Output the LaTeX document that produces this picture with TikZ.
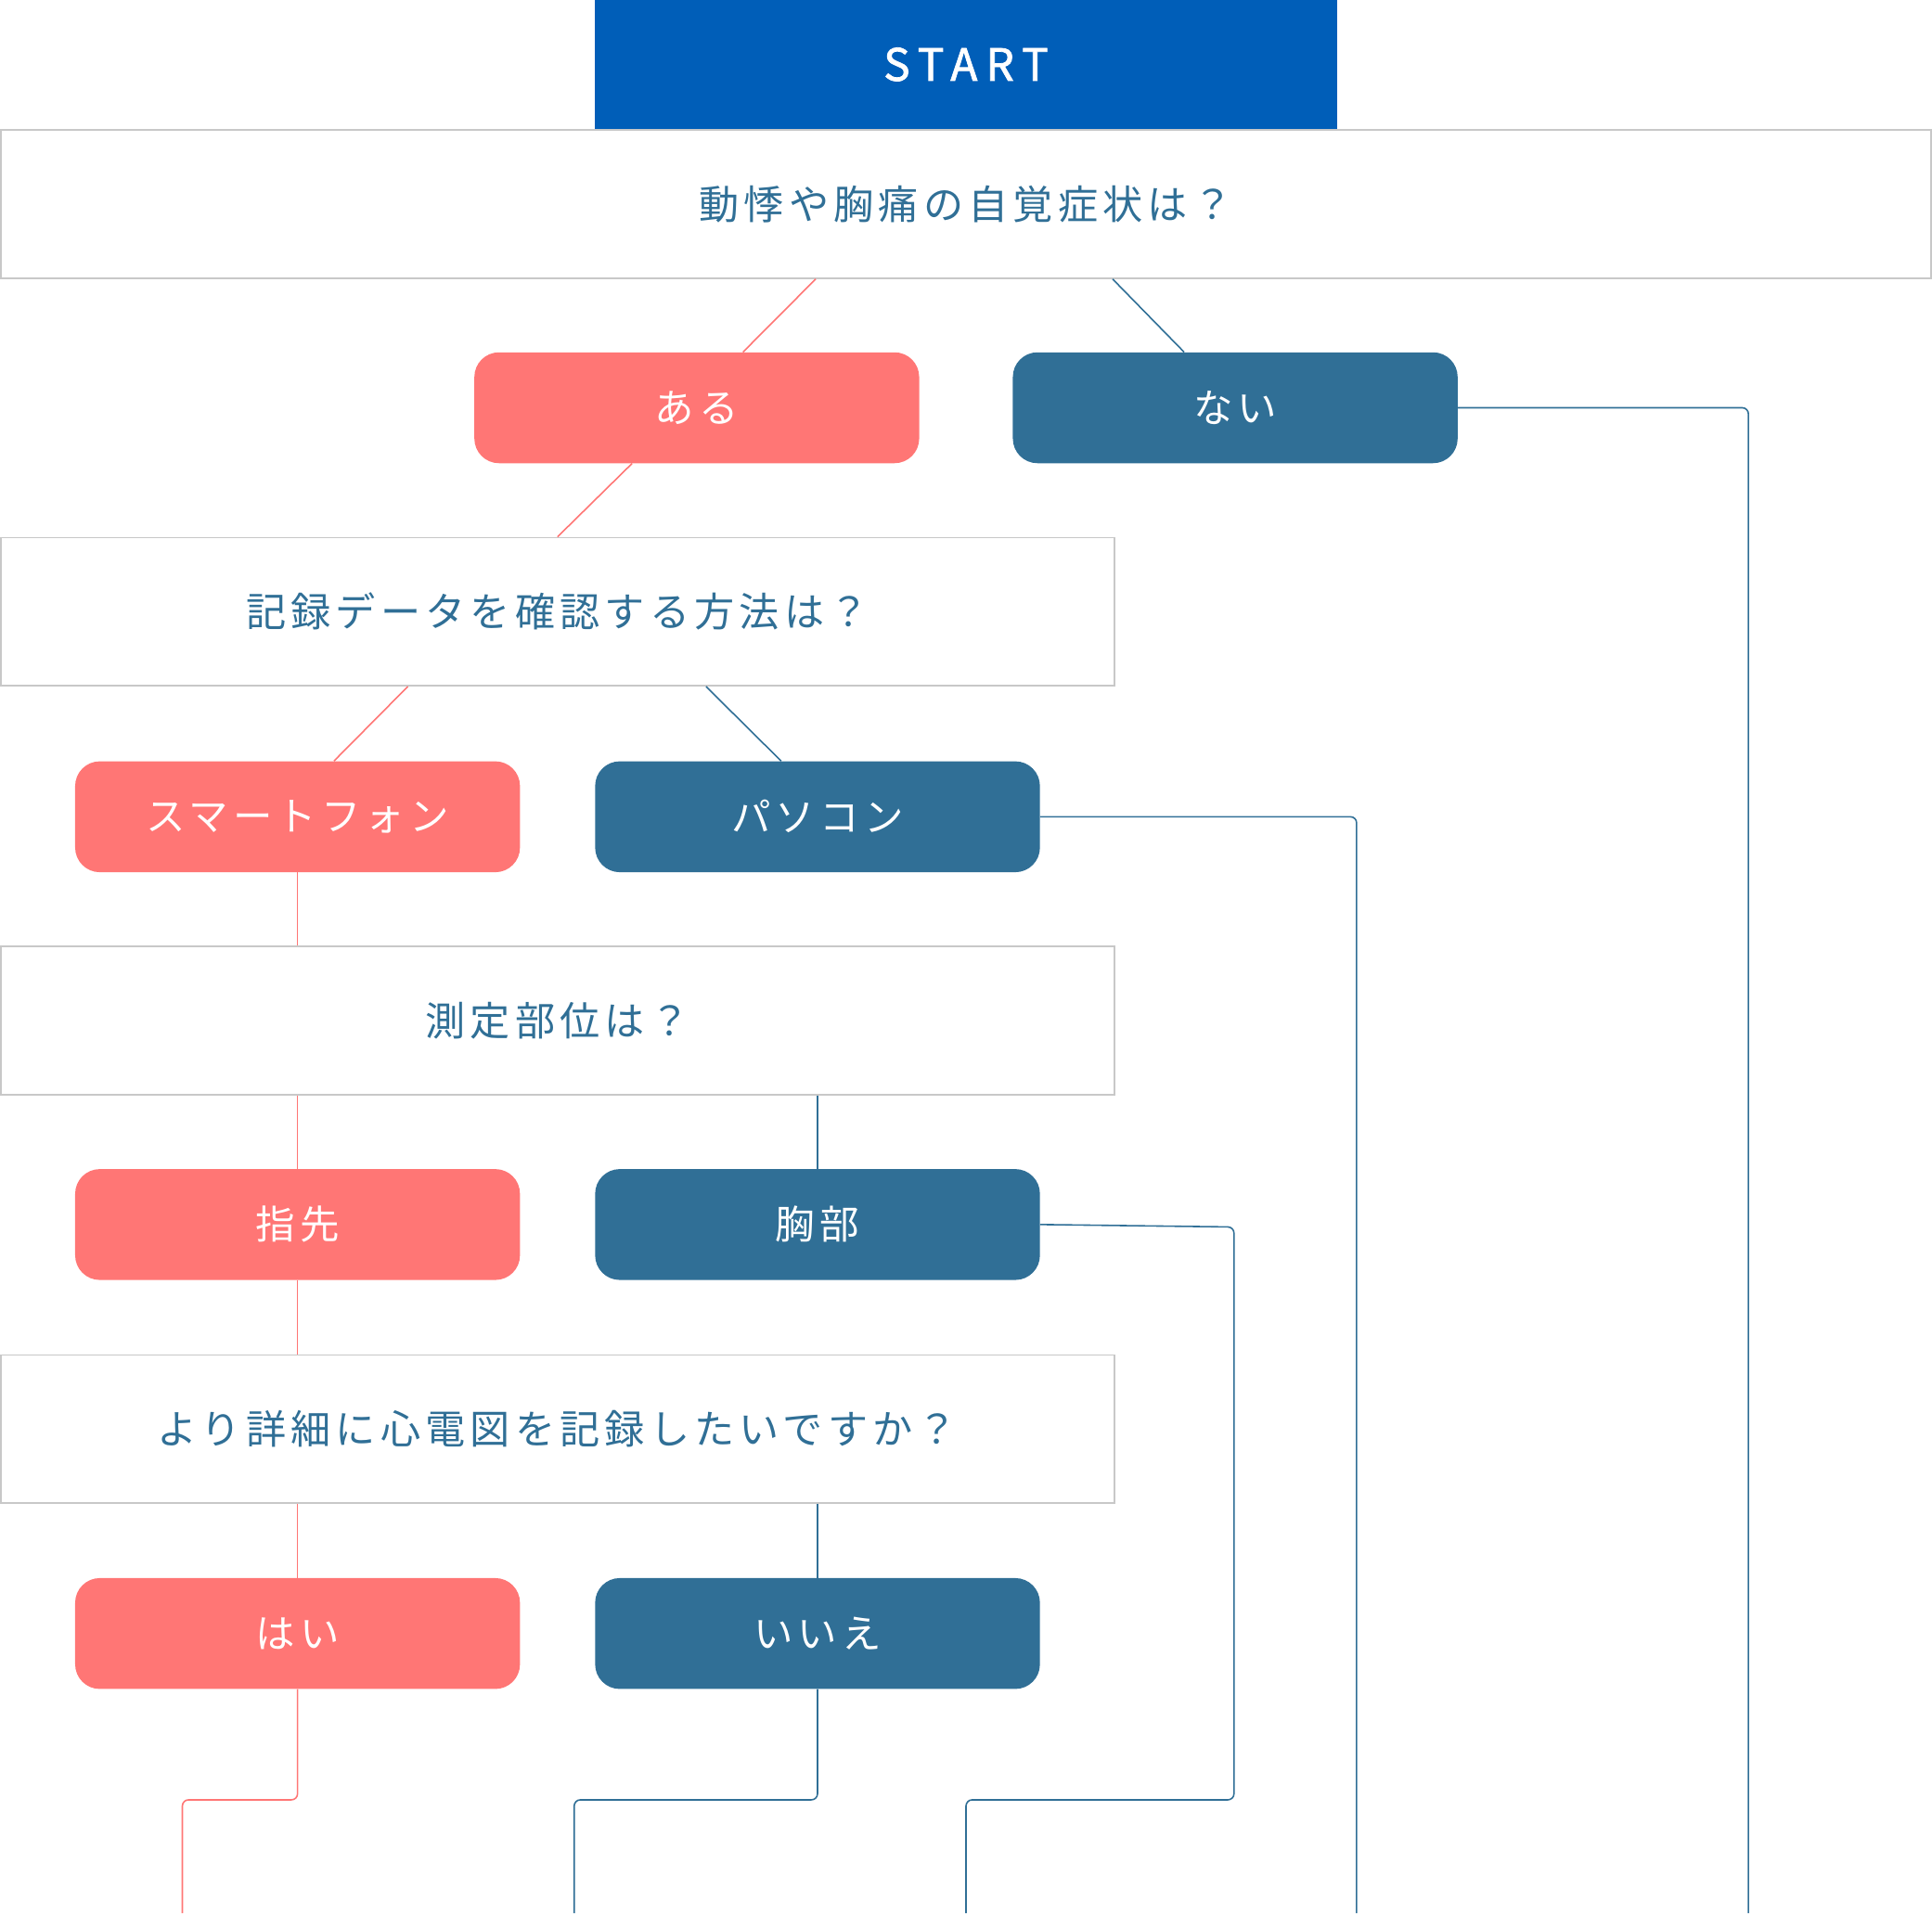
\documentclass[tikz,border=0pt]{standalone}
\usepackage{fontspec}
\setmainfont{Noto Sans CJK JP}
\newfontfamily\jpq[LetterSpace=12]{Noto Sans CJK JP}
\newfontfamily\startfont[LetterSpace=19,FakeBold=1.6]{Noto Sans CJK JP}
\definecolor{startblue}{HTML}{005EB8}
\definecolor{salmon}{HTML}{FF7675}
\definecolor{dblue}{HTML}{306F96}
\definecolor{qgray}{HTML}{C8C8C8}
\begin{document}
\begin{tikzpicture}[x=1pt,y=-1pt,
  startbox/.style={fill=startblue, minimum width=602pt, minimum height=104.6pt, inner sep=0pt,
    text=white, font=\startfont\fontsize{36}{40}\selectfont},
  qbox/.style={draw=qgray, line width=1.3pt, minimum height=120.2pt, inner sep=0pt,
    text=dblue, font=\jpq\fontsize{32.5}{38}\selectfont},
  pill/.style={rounded corners=20pt, minimum width=361pt, minimum height=90pt, inner sep=0pt,
    text=white, font=\jpq\fontsize{32}{38}\selectfont},
  yes/.style={pill, fill=salmon},
  no/.style={pill, fill=dblue},
  lyes/.style={draw=salmon, line width=1.2pt},
  lno/.style={draw=dblue, line width=1.2pt},
  elbow/.style={rounded corners=5pt}
]
\useasboundingbox (0,0) rectangle (1568,1553);

% nodes
\node[startbox] (start) at (784,52.3) {START};
\node[qbox, minimum width=1566.7pt] (q1) at (784,165.75) {動悸や胸痛の自覚症状は？};
\node[yes] (aru) at (565.5,331) {ある};
\node[no]  (nai) at (1002.5,331) {ない};
\node[qbox, minimum width=903.7pt] (q2) at (452.5,496.5) {記録データを確認する方法は？};
\node[yes] (sp) at (241.5,663) {スマートフォン};
\node[no]  (pc) at (663.5,663) {パソコン};
\node[qbox, minimum width=903.7pt] (q3) at (452.5,828.5) {測定部位は？};
\node[yes] (yubi) at (241.5,994) {指先};
\node[no]  (kyo) at (663.5,994) {胸部};
\node[qbox, minimum width=903.7pt] (q4) at (452.5,1160) {より詳細に心電図を記録したいですか？};
\node[yes] (hai) at (241.5,1326) {はい};
\node[no]  (iie) at (663.5,1326) {いいえ};

% coordinates for free ends and bends
\coordinate (e1) at (1419,1553);
\coordinate (e2) at (1101,1553);
\coordinate (k1) at (1001.5,996);
\coordinate (k2) at (1001.5,1461);
\coordinate (k3) at (784,1461);
\coordinate (e3) at (784,1553);
\coordinate (h2) at (148,1461);
\coordinate (e4) at (148,1553);
\coordinate (i2) at (466,1461);
\coordinate (e5) at (466,1553);

% connectors
\draw[lyes] ([xshift=-122pt]q1.south) -- ([xshift=37.5pt]aru.north);
\draw[lno]  ([xshift=119pt]q1.south) -- ([xshift=-41.5pt]nai.north);
\draw[lno, elbow] (nai.east) -| (e1);
\draw[lyes] ([xshift=-52.5pt]aru.south) -- (q2.north);
\draw[lyes] ([xshift=-121.5pt]q2.south) -- ([xshift=29.5pt]sp.north);
\draw[lno]  ([xshift=120.5pt]q2.south) -- ([xshift=-29.5pt]pc.north);
\draw[lno, elbow] (pc.east) -| (e2);
\draw[lyes] (sp.south) -- (sp.south |- q3.north);
\draw[lyes] (yubi.north |- q3.south) -- (yubi.north);
\draw[lno]  (kyo.north |- q3.south) -- (kyo.north);
\draw[lno, elbow] (kyo.east) -- (k1) -- (k2) -- (k3) -- (e3);
\draw[lyes] (yubi.south) -- (yubi.south |- q4.north);
\draw[lyes] (hai.north |- q4.south) -- (hai.north);
\draw[lno]  (iie.north |- q4.south) -- (iie.north);
\draw[lyes, elbow] (hai.south) |- (h2) -- (e4);
\draw[lno, elbow] (iie.south) |- (i2) -- (e5);
\end{tikzpicture}
\end{document}
